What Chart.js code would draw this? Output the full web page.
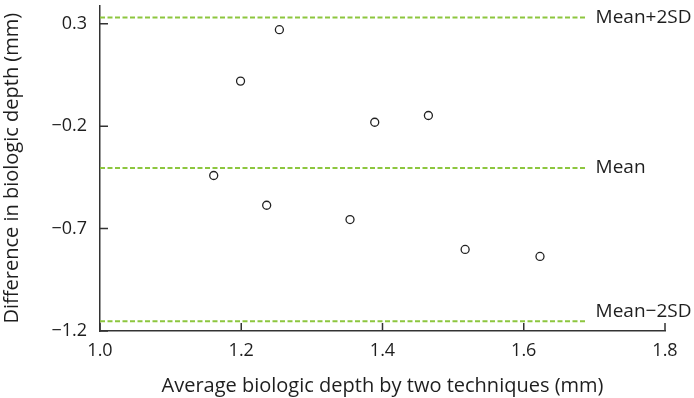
<!DOCTYPE html>
<html>
<head>
<meta charset="utf-8">
<script src="https://cdn.jsdelivr.net/npm/chart.js@4/dist/chart.umd.min.js"></script>
<style>
    html, body { margin: 0; padding: 0; background: #fff; }
    #wrap { width: 694px; height: 398px; position: relative; }
</style>
</head>
<body>
<div id="wrap"><canvas id="myChart"></canvas></div>
<script>
const xTicks = [1.0, 1.2, 1.4, 1.6, 1.8]
const yTicks = [-1.2, -0.7, -0.2, 0.3]

// Bland-Altman points: average of two techniques vs difference
const avgDepth = [1.161, 1.199, 1.254, 1.236, 1.354, 1.389, 1.465, 1.517, 1.623]
const diffDepth = [-0.441, 0.020, 0.271, -0.586, -0.656, -0.181, -0.148, -0.802, -0.836]

const refLabels = ["Mean+2SD", "Mean", "Mean\u22122SD"]
const refValues = [0.331, -0.404, -1.153]
const refStart = 1.0
const refEnd = 1.689

const textColor = "#1e1e1e"
const fontFamily = "'Open Sans', sans-serif"

function fmt(v) {
    let s = Math.abs(v).toFixed(1)
    return v < 0 ? "\u2212" + s : s
}

const points = avgDepth.map((x, i) => ({ x: x, y: diffDepth[i] }))

const refSets = refValues.map(v => ({
    type: "line",
    data: [{ x: refStart, y: v }, { x: refEnd, y: v }],
    borderColor: "#8dc63f",
    borderWidth: 2,
    borderDash: [5, 2.5],
    pointRadius: 0,
    fill: false
}))

const innerTicks = {
    id: "innerTicks",
    afterDraw(chart) {
        let ctx = chart.ctx
        let xs = chart.scales.x
        let ys = chart.scales.y
        let area = chart.chartArea
        ctx.save()
        ctx.strokeStyle = "#333"
        ctx.lineWidth = 1.5
        ctx.beginPath()
        xTicks.forEach(t => {
            let px = xs.getPixelForValue(t)
            ctx.moveTo(px, area.bottom)
            ctx.lineTo(px, area.bottom - 8)
        })
        yTicks.forEach(t => {
            let py = ys.getPixelForValue(t)
            ctx.moveTo(area.left, py)
            ctx.lineTo(area.left + 8, py)
        })
        ctx.stroke()

        // labels at the right end of the reference lines
        ctx.fillStyle = textColor
        ctx.font = "19px " + fontFamily
        ctx.textAlign = "left"
        ctx.textBaseline = "middle"
        refLabels.forEach((lab, i) => {
            let px = xs.getPixelForValue(refEnd) + 9
            let py = ys.getPixelForValue(refValues[i])
            if (i == refLabels.length - 1) py -= 10
            ctx.fillText(lab, px, py)
        })
        ctx.restore()
    }
}

const data = {
    datasets: [
        ...refSets,
        {
            type: "scatter",
            data: points,
            pointRadius: 4,
            pointBorderWidth: 1.3,
            pointBackgroundColor: "#fff",
            pointBorderColor: "#222"
        }
    ]
}

const config = {
    type: "scatter",
    data: data,
    options: {
        responsive: true,
        maintainAspectRatio: false,
        animation: false,
        layout: {
            padding: { top: 3, right: 29, left: 0, bottom: 0 }
        },
        plugins: {
            legend: { display: false },
            tooltip: { enabled: false }
        },
        scales: {
            x: {
                type: "linear",
                min: 1.0,
                max: 1.8,
                afterBuildTicks: s => { s.ticks = xTicks.map(v => ({ value: v })) },
                afterFit: s => { s.height = 67; s.paddingLeft = 0; s.paddingRight = 0 },
                border: { display: true, color: "#333", width: 1.5 },
                grid: { display: false, drawTicks: false },
                ticks: {
                    color: textColor,
                    font: { family: fontFamily, size: 18 },
                    padding: 9,
                    maxRotation: 0,
                    callback: v => fmt(v)
                },
                title: {
                    display: true,
                    text: "Average biologic depth by two techniques (mm)",
                    color: textColor,
                    font: { family: fontFamily, size: 20 },
                    padding: { top: 0, bottom: 0 }
                }
            },
            y: {
                type: "linear",
                min: -1.2,
                max: 0.39,
                afterBuildTicks: s => { s.ticks = yTicks.map(v => ({ value: v })) },
                afterFit: s => { s.width = 100; s.paddingTop = 0; s.paddingBottom = 0 },
                border: { display: true, color: "#333", width: 1.5 },
                grid: { display: false, drawTicks: false },
                ticks: {
                    color: textColor,
                    font: { family: fontFamily, size: 18 },
                    padding: 13,
                    callback: v => fmt(v)
                },
                title: {
                    display: true,
                    text: "Difference in biologic depth (mm)",
                    color: textColor,
                    font: { family: fontFamily, size: 20 },
                    padding: { top: 0, bottom: 0 }
                }
            }
        }
    },
    plugins: [innerTicks]
}

const myChart = new Chart(document.getElementById("myChart"), config)
</script>
</body>
</html>
